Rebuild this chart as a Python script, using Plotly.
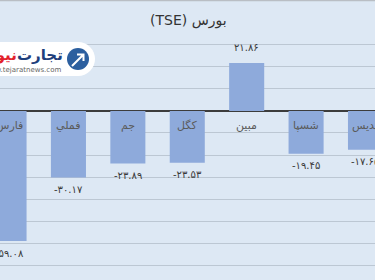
import plotly.graph_objects as go

# ---- data ----
categories = ["فارس", "فملي", "جم", "کگل", "مبین", "شسپا", "پدیس"]
values = [-59.08, -30.17, -23.89, -23.53, 21.86, -19.45, -17.65]
title_text = "بورس (TSE)"

W, H = 375, 280
BG = "#dde8f4"
BAR = "#8eaadb"
TXT = "#404040"

FA_DIGITS = str.maketrans("0123456789", "۰۱۲۳۴۵۶۷۸۹")


def fa(v):
    return f"{v:.2f}".translate(FA_DIGITS)


def px(x):
    return x / W


def py(y):
    return 1 - y / H


fig = go.Figure()
fig.add_trace(go.Bar(
    x=categories, y=values, marker=dict(color=BAR, line=dict(width=0)),
    hoverinfo="skip", cliponaxis=False,
))

ann = []
for c, v in zip(categories, values):
    ann.append(dict(x=c, y=v, xref="x", yref="y", text=fa(v), showarrow=False,
                    yanchor="middle", yshift=(-12 if v < 0 else 15),
                    font=dict(family="DejaVu Sans", size=10, color="#3a3a3a")))
    ann.append(dict(x=c, y=0, xref="x", yref="y", text=c, showarrow=False,
                    yanchor="middle", yshift=-15,
                    font=dict(family="DejaVu Sans", size=11, color="#5a5a5a")))

# title
ann.append(dict(x=px(188), y=py(21), xref="paper", yref="paper",
                text="\u202b" + title_text + "\u202c", showarrow=False,
                xanchor="center", yanchor="middle",
                font=dict(family="DejaVu Sans", size=14, color="#333333")))

# logo texts
ann.append(dict(x=px(65), y=py(55), xref="paper", yref="paper", text="<b>تجارت</b>",
                showarrow=False, xanchor="right", yanchor="middle",
                font=dict(family="DejaVu Sans", size=15, color="#1f3f7c")))
ann.append(dict(x=px(19), y=py(55), xref="paper", yref="paper", text="<b>نیوز</b>",
                showarrow=False, xanchor="right", yanchor="middle",
                font=dict(family="DejaVu Sans", size=15, color="#e3222b")))
ann.append(dict(x=px(63), y=py(70), xref="paper", yref="paper", text="www.tejaratnews.com",
                showarrow=False, xanchor="right", yanchor="middle",
                font=dict(family="DejaVu Sans", size=7, color="#666666")))

shapes = [
    # top border
    dict(type="line", xref="paper", yref="paper", x0=0, x1=1, y0=py(0.5), y1=py(0.5),
         line=dict(color="#b9bec4", width=1.5)),
    # logo pill
    dict(type="rect", xref="paper", yref="paper", x0=px(-10), x1=px(78), y0=py(76), y1=py(42),
         fillcolor="white", line=dict(width=0), layer="above"),
    dict(type="circle", xref="paper", yref="paper", x0=px(61), x1=px(95), y0=py(76), y1=py(42),
         fillcolor="white", line=dict(width=0), layer="above"),
    dict(type="circle", xref="paper", yref="paper", x0=px(67), x1=px(89), y0=py(70), y1=py(48),
         fillcolor="#2c5f9f", line=dict(width=0), layer="above"),
    dict(type="path", xref="paper", yref="paper",
         path=f"M {px(72)} {py(66)} L {px(83)} {py(55)} M {px(77)} {py(54.5)} L {px(83.5)} {py(54.5)} L {px(83.5)} {py(61)}",
         line=dict(color="white", width=2), layer="above"),
]

fig.update_layout(
    width=W, height=H,
    margin=dict(l=0, r=0, t=0, b=0),
    paper_bgcolor=BG, plot_bgcolor=BG,
    showlegend=False,
    bargap=0.41,
    xaxis=dict(range=[-0.152, 6.16], showticklabels=False, showgrid=False,
               zeroline=False, showline=False, fixedrange=True),
    yaxis=dict(domain=[0, 250 / 280], range=[-76.8, 36.8], dtick=10, tick0=0,
               showticklabels=False, showgrid=True, gridcolor="#bcc7d3", gridwidth=1,
               zeroline=True, zerolinecolor="#3c3c3c", zerolinewidth=1.5,
               showline=False, fixedrange=True),
    annotations=ann,
    shapes=shapes,
)

fig.write_html("out.html")
